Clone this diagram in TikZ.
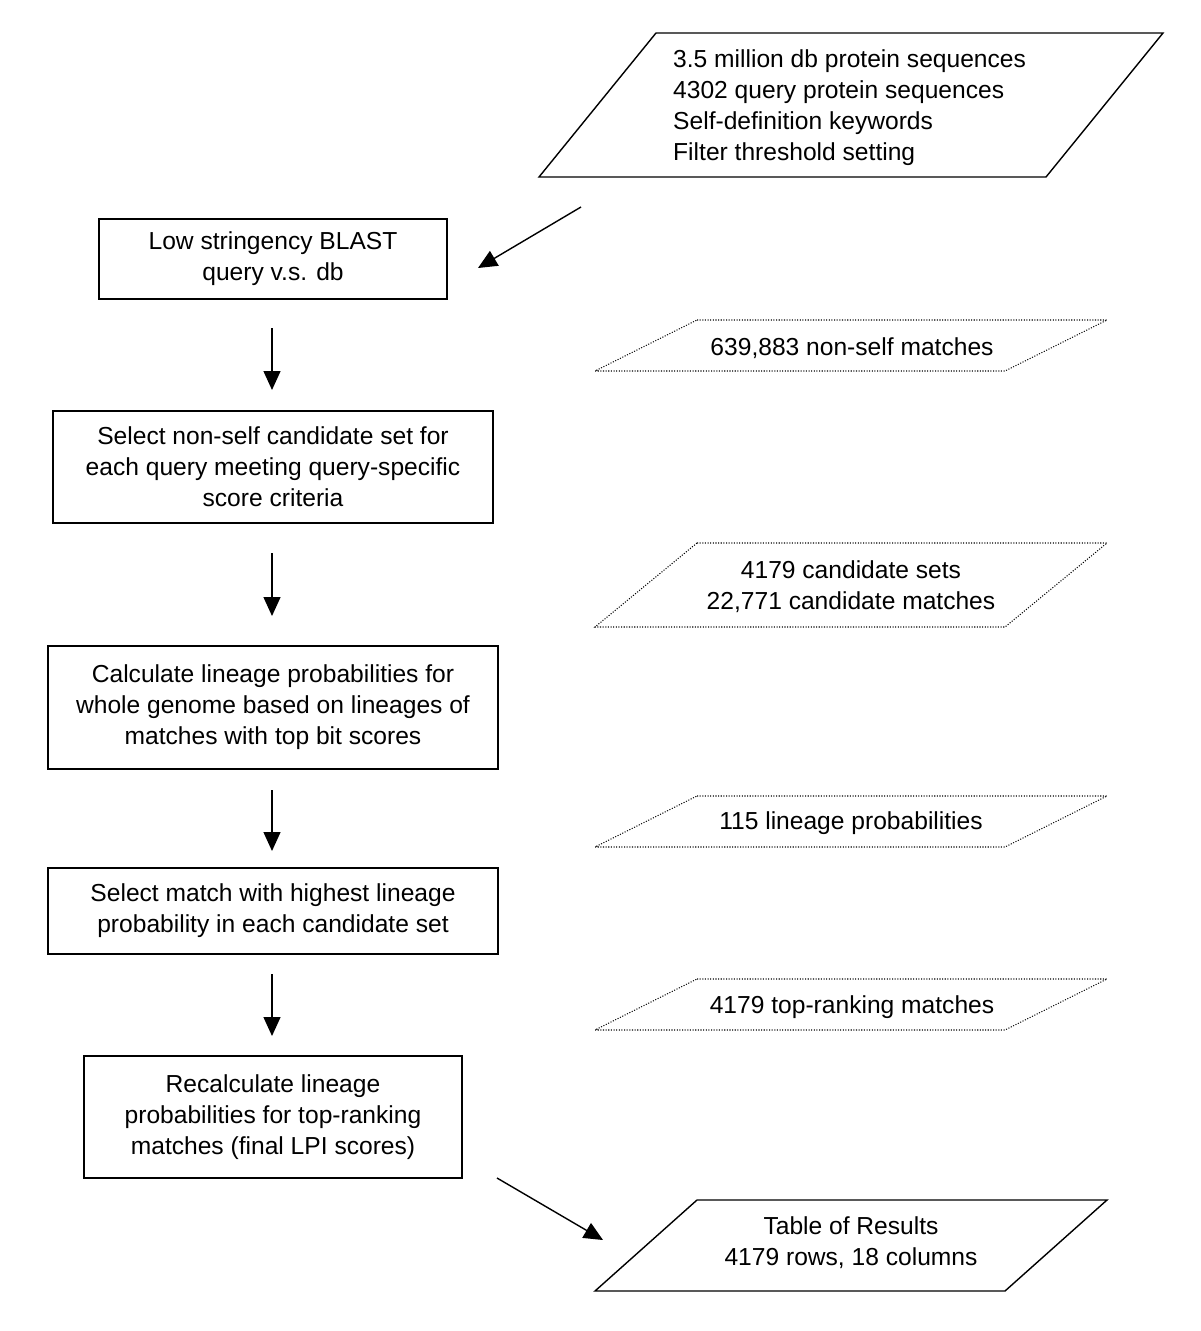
\documentclass[tikz,border=0pt]{standalone}
\usepackage{fontspec}
\setmainfont{Liberation Sans}
\usetikzlibrary{arrows.meta}

\tikzset{
  procbox/.style={draw, line width=0.8pt, inner sep=0pt, align=center},
  datashape/.style={line width=0.8pt},
  dotshape/.style={line width=0.6pt, dash pattern=on 0.6pt off 0.9pt},
  flow/.style={line width=0.8pt, -{Triangle[length=0.38cm,width=0.34cm]}},
  txt/.style={font=\fontsize{14}{17.6}\selectfont}
}

\begin{document}
\begin{tikzpicture}[x=0.02cm, y=-0.02cm, every node/.style={txt}]
\useasboundingbox (0,0) rectangle (1200,1331);

% input data
\draw[datashape] (656,33) -- (1163,33) -- (1046,177) -- (539,177) -- cycle;
\node[align=left, anchor=west] (input) at (667,108) {3.5 million db protein sequences\\4302 query protein sequences\\Self-definition keywords\\Filter threshold setting};

% processing steps
\node[procbox, minimum width=6.96cm, minimum height=1.6cm] (blast) at (273,259) {Low stringency BLAST\\query v.s. db};
\node[procbox, minimum width=8.8cm, minimum height=2.24cm] (select) at (273,467) {Select non-self candidate set for\\each query meeting query-specific\\score criteria};
\node[procbox, minimum width=9cm, minimum height=2.46cm] (calc) at (273,707.5) {Calculate lineage probabilities for\\whole genome based on lineages of\\matches with top bit scores};
\node[procbox, minimum width=9cm, minimum height=1.72cm] (pick) at (273,911) {Select match with highest lineage\\probability in each candidate set};
\node[procbox, minimum width=7.56cm, minimum height=2.44cm] (recalc) at (273,1117) {Recalculate lineage\\probabilities for top-ranking\\matches (final LPI scores)};

% intermediate results
\draw[dotshape] (697,320) -- (1107,320) -- (1005,371) -- (595,371) -- cycle;
\node (nonself) at (852,348) {639,883 non-self matches};
\draw[dotshape] (697,543) -- (1107,543) -- (1005,627) -- (595,627) -- cycle;
\node[align=center] (cands) at (851,587) {4179 candidate sets\\22,771 candidate matches};
\draw[dotshape] (697,796) -- (1107,796) -- (1005,847) -- (595,847) -- cycle;
\node (lineage) at (851,823.5) {115 lineage probabilities};
\draw[dotshape] (697,979) -- (1107,979) -- (1005,1030) -- (595,1030) -- cycle;
\node (topmatch) at (852,1007) {4179 top-ranking matches};

% output
\draw[datashape] (697,1200) -- (1107,1200) -- (1005,1291) -- (595,1291) -- cycle;
\node[align=center] (results) at (851,1243) {Table of Results\\4179 rows, 18 columns};

% arrows
\coordinate (a1s) at (581,207); \coordinate (a1e) at (478,268);
\coordinate (a2s) at (272,328); \coordinate (a2e) at (272,390);
\coordinate (a3s) at (272,553); \coordinate (a3e) at (272,616);
\coordinate (a4s) at (272,790); \coordinate (a4e) at (272,851);
\coordinate (a5s) at (272,974); \coordinate (a5e) at (272,1036);
\coordinate (a6s) at (497,1178); \coordinate (a6e) at (603,1240);
\draw[flow] (a1s) -- (a1e);
\draw[flow] (a2s) -- (a2e);
\draw[flow] (a3s) -- (a3e);
\draw[flow] (a4s) -- (a4e);
\draw[flow] (a5s) -- (a5e);
\draw[flow] (a6s) -- (a6e);
\end{tikzpicture}
\end{document}
